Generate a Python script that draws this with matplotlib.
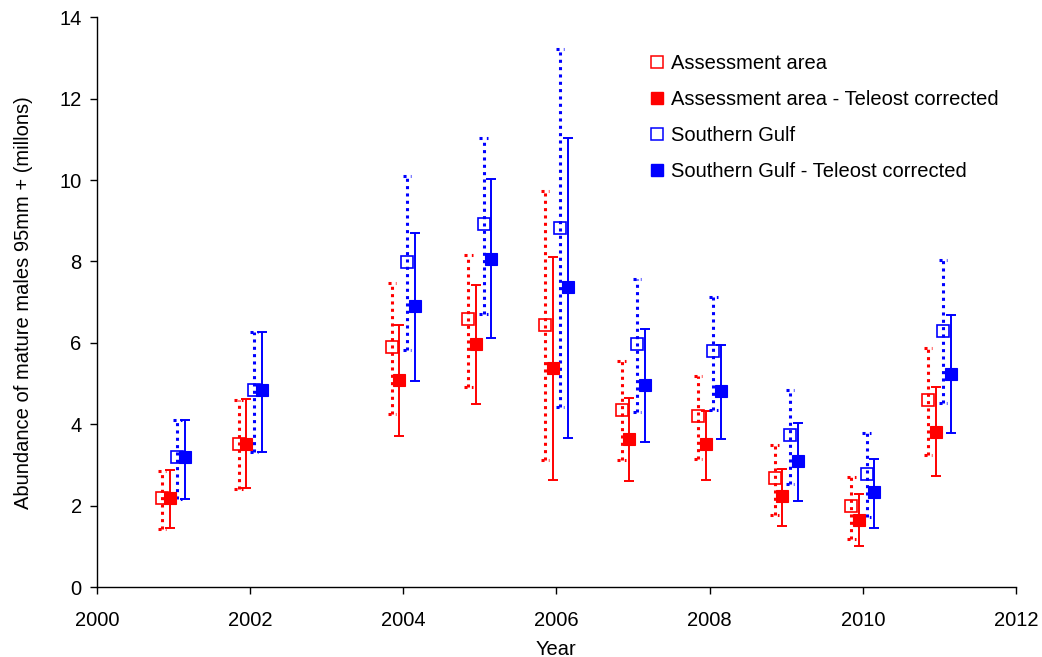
import matplotlib
matplotlib.use("Agg")
import matplotlib.pyplot as plt
from matplotlib.lines import Line2D
import numpy as np

plt.rcParams['font.family'] = ['Liberation Sans', 'DejaVu Sans']

years = [2001, 2002, 2004, 2005, 2006, 2007, 2008, 2009, 2010, 2011]

aa_mean = [2.20, 3.53, 5.89, 6.58, 6.45, 4.36, 4.21, 2.68, 1.99, 4.59]
aa_low = [1.44, 2.41, 4.25, 4.92, 3.12, 3.12, 3.16, 1.78, 1.18, 3.25]
aa_high = [2.86, 4.61, 7.47, 8.15, 9.72, 5.56, 5.18, 3.49, 2.71, 5.88]

aatc_mean = [2.20, 3.53, 5.09, 5.98, 5.38, 3.65, 3.51, 2.24, 1.66, 3.82]
aatc_low = [1.45, 2.44, 3.71, 4.50, 2.63, 2.60, 2.63, 1.51, 1.01, 2.73]
aatc_high = [2.88, 4.63, 6.44, 7.42, 8.11, 4.66, 4.33, 2.91, 2.28, 4.92]

sg_mean = [3.19, 4.84, 7.98, 8.91, 8.83, 5.98, 5.80, 3.73, 2.78, 6.30]
sg_low = [2.17, 3.32, 5.83, 6.71, 4.42, 4.31, 4.36, 2.54, 1.73, 4.53]
sg_high = [4.11, 6.27, 10.10, 11.03, 13.21, 7.56, 7.13, 4.84, 3.79, 8.03]

sgtc_mean = [3.19, 4.84, 6.90, 8.07, 7.38, 4.96, 4.81, 3.10, 2.33, 5.25]
sgtc_low = [2.17, 3.32, 5.07, 6.12, 3.67, 3.58, 3.65, 2.13, 1.45, 3.78]
sgtc_high = [4.11, 6.27, 8.69, 10.02, 11.03, 6.34, 5.96, 4.03, 3.16, 6.69]

labels = ["Assessment area", "Assessment area - Teleost corrected",
          "Southern Gulf", "Southern Gulf - Teleost corrected"]

fig = plt.figure(figsize=(10.42, 6.57), dpi=100)
ax = fig.add_axes([0.093, 0.106, 0.882, 0.868])

RED = "#FF0000"
BLUE = "#0000FF"
FS = 14.5

series = [
    (aa_mean, aa_low, aa_high, -0.15, RED, False),
    (aatc_mean, aatc_low, aatc_high, -0.05, RED, True),
    (sg_mean, sg_low, sg_high, 0.05, BLUE, False),
    (sgtc_mean, sgtc_low, sgtc_high, 0.15, BLUE, True),
]

DOT = (0, (1, 1.4))
handles = []
for (m, lo, hi, off, col, filled), lab in zip(series, labels):
    x = np.array(years, dtype=float) + off
    m = np.array(m); lo = np.array(lo); hi = np.array(hi)
    if filled:
        ax.errorbar(x, m, yerr=[m - lo, hi - m], fmt='none', ecolor=col,
                    elinewidth=1.4, capsize=3.8, capthick=1.4, zorder=2)
        ax.plot(x, m, linestyle='none', marker='s', markersize=8.5,
                markerfacecolor=col, markeredgecolor=col, markeredgewidth=0.8,
                zorder=4)
        h = Line2D([], [], linestyle='none', marker='s', markersize=8.5,
                   markerfacecolor=col, markeredgecolor=col)
    else:
        ax.vlines(x, lo, hi, colors=col, linestyles=DOT,
                  linewidth=2.2, zorder=2)
        ax.hlines(lo, x - 0.055, x + 0.055, colors=col,
                  linestyles=DOT, linewidth=2.2, zorder=2)
        ax.hlines(hi, x - 0.055, x + 0.055, colors=col,
                  linestyles=DOT, linewidth=2.2, zorder=2)
        ax.plot(x, m, linestyle='none', marker='s', markersize=8.5,
                markerfacecolor='none', markeredgecolor=col,
                markeredgewidth=1.2, zorder=3)
        h = Line2D([], [], linestyle='none', marker='s', markersize=8.5,
                   markerfacecolor='white', markeredgecolor=col,
                   markeredgewidth=1.1)
    handles.append(h)

ax.set_xlim(2000, 2012)
ax.set_ylim(0, 14)
ax.set_xticks(range(2000, 2013, 2))
ax.set_yticks(range(0, 15, 2))
ax.spines['top'].set_visible(False)
ax.spines['right'].set_visible(False)
ax.spines['left'].set_linewidth(1.0)
ax.spines['bottom'].set_linewidth(1.0)
ax.tick_params(direction='out', length=5, width=1.0, labelsize=FS)
ax.tick_params(axis='x', pad=12)
ax.tick_params(axis='y', pad=6)

ax.set_xlabel("Year", fontsize=FS, labelpad=7)
ax.set_ylabel("Abundance of mature males 95mm + (millons)", fontsize=FS,
              labelpad=19)

ax.legend(handles, labels, loc='upper left', bbox_to_anchor=(0.593, 0.95),
          frameon=False, fontsize=FS, handlelength=0.7, handletextpad=0.35,
          labelspacing=0.85, borderaxespad=0)

fig.savefig("out.png", dpi=100)
